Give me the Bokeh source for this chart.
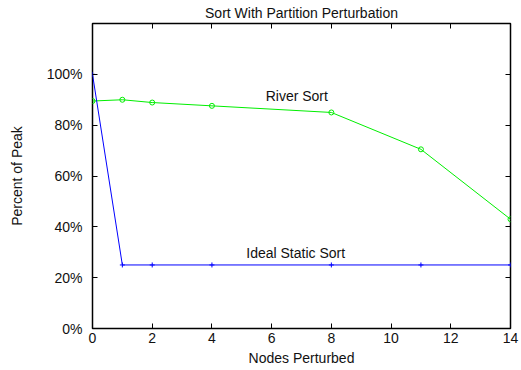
from bokeh.plotting import figure
from bokeh.models import Range1d, LinearAxis, FixedTicker, PrintfTickFormatter, Label
from bokeh.embed import file_html
from bokeh.resources import INLINE

nodes = [0, 1, 2, 4, 8, 11, 14]
river_sort = [89.5, 90.0, 88.9, 87.6, 85.0, 70.5, 43.0]
ideal_static = [100, 25, 25, 25, 25, 25, 25]
x_ticks = [0, 2, 4, 6, 8, 10, 12, 14]
y_ticks = [0, 20, 40, 60, 80, 100]

FONT = "Liberation Sans"
FS = "14px"

p = figure(width=521, height=370, output_backend="svg", toolbar_location=None,
           x_range=Range1d(0, 14), y_range=Range1d(0, 120),
           min_border_left=92, min_border_right=11, min_border_top=23, min_border_bottom=42,
           x_axis_label="Nodes Perturbed", y_axis_label="Percent of Peak",
           title="Sort With Partition Perturbation")
p.title.align = "center"
p.title.text_font = FONT
p.title.text_font_size = FS
p.title.text_font_style = "normal"
p.title.text_color = "#111111"
p.title.standoff = 5
p.title.offset = 0
p.xgrid.visible = False
p.ygrid.visible = False
p.outline_line_color = "black"
p.outline_line_width = 1.5
p.background_fill_color = "white"
p.border_fill_color = "white"

def style(ax, labels=True):
    ax.axis_line_color = None
    ax.major_tick_in = 5
    ax.major_tick_out = 0
    ax.minor_tick_line_color = None
    ax.major_tick_line_color = "black"
    ax.major_label_text_font = FONT
    ax.major_label_text_color = "#111111"
    ax.axis_label_text_font = FONT
    ax.axis_label_text_color = "#111111"
    ax.axis_label_text_font_style = "normal"
    ax.axis_label_text_font_size = FS
    if labels:
        ax.major_label_text_font_size = FS
    else:
        ax.major_label_text_font_size = "1px"
        ax.major_label_standoff = 0

p.xaxis.ticker = FixedTicker(ticks=x_ticks)
p.yaxis.ticker = FixedTicker(ticks=y_ticks)
p.yaxis.formatter = PrintfTickFormatter(format="%d%%")
style(p.xaxis[0])
style(p.yaxis[0])
p.xaxis.major_label_standoff = 4
p.xaxis.axis_label_standoff = 4
p.yaxis.major_label_standoff = 10
p.yaxis.axis_label_standoff = 19

top = LinearAxis(ticker=FixedTicker(ticks=x_ticks),
                 major_label_overrides={t: "" for t in x_ticks})
style(top, labels=False)
p.add_layout(top, "above")
right = LinearAxis(ticker=FixedTicker(ticks=y_ticks),
                   major_label_overrides={t: "" for t in y_ticks})
style(right, labels=False)
p.add_layout(right, "right")

p.line(nodes, river_sort, line_color="#00ee00", line_width=1)
p.scatter(nodes, river_sort, marker="circle", size=5, line_color="#00ee00",
          fill_color=None, line_width=1)
p.line(nodes, ideal_static, line_color="#0000ff", line_width=1)
p.scatter(nodes, ideal_static, marker="cross", size=5, line_color="#0000ff", line_width=1)

p.add_layout(Label(x=5.8, y=88.5, text="River Sort", text_font=FONT,
                   text_font_size=FS, text_color="#111111"))
p.add_layout(Label(x=5.15, y=26.5, text="Ideal Static Sort", text_font=FONT,
                   text_font_size=FS, text_color="#111111"))

open("out.html", "w").write(file_html(p, INLINE))
